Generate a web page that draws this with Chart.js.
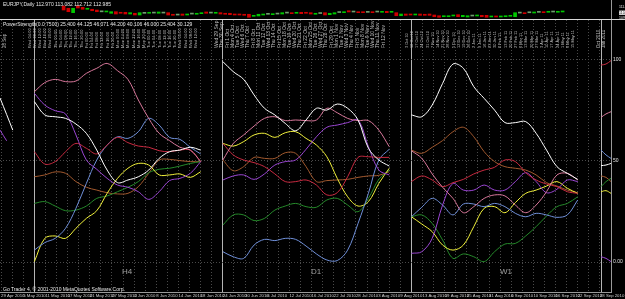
<!DOCTYPE html>
<html>
<head>
<meta charset="utf-8">
<script src="https://cdn.jsdelivr.net/npm/chart.js@4.4.1/dist/chart.umd.min.js"></script>
<style>
  html, body { margin: 0; padding: 0; background: #000; }
  #wrap { position: relative; width: 625px; height: 299px; overflow: hidden; background: #000;
          font-family: "Liberation Sans", "DejaVu Sans", sans-serif; }
  canvas { position: absolute; left: 0; }
  #priceCanvas { top: 0; }
  #mainCanvas { top: 20px; }
  #labelCanvas { top: 20px; }
  #sep { position: absolute; left: 0; top: 19px; width: 625px; height: 1px; background: #d8d8d8; }
  .txt { position: absolute; color: #e8e8e8; font-size: 5px; line-height: 5px; white-space: nowrap; }
  .sect { position: absolute; color: #a0a0a0; font-size: 8px; line-height: 8px; }
</style>
</head>
<body>
<div id="wrap">
  <canvas id="priceCanvas" width="625" height="19"></canvas>
  <div id="sep"></div>
  <canvas id="mainCanvas" width="625" height="279"></canvas>
  <canvas id="labelCanvas" width="625" height="100"></canvas>
  <div class="txt" style="left:3px;top:2px">EURJPY,Daily 112.970 113.082 112.712 112.985</div>
  <div class="txt" style="left:3px;top:22px">PowerStrength(0.0 7500) 25.400 44.125 46.071 44.200 40.106 46.000 25.404 30.129</div>
  <div class="sect" style="left:122px;top:268px">H4</div>
  <div class="sect" style="left:311px;top:268px">D1</div>
  <div class="sect" style="left:500px;top:268px">W1</div>
  <div class="txt" style="left:3px;top:287px">Go Trader 4, © 2001-2010 MetaQuotes Software Corp.</div>
</div>
<script>
// time axis in bars
const xMin = -0.2, xMax = 110;
const sectionStarts = [6, 40, 74];
const sectionSpan = 30;
const tailBars = [-0.2, 1, 2.1];
const edgeBars = [108.2, 109.1, 110];
const dividerBars = [6, 40, 74, 108.2];

// bottom date labels, one every 4 bars
const dateLabels = ['29 Apr 2010', '5 May 2010', '11 May 2010', '17 May 2010', '21 May 2010', '27 May 2010',
  '2 Jun 2010', '8 Jun 2010', '14 Jun 2010', '18 Jun 2010', '24 Jun 2010', '30 Jun 2010',
  '6 Jul 2010', '12 Jul 2010', '16 Jul 2010', '22 Jul 2010', '28 Jul 2010', '3 Aug 2010',
  '9 Aug 2010', '13 Aug 2010', '19 Aug 2010', '25 Aug 2010', '31 Aug 2010', '6 Sep 2010',
  '10 Sep 2010', '16 Sep 2010', '22 Sep 2010', '28 Sep 2010'];

// vertical labels at the top of each block
const h4Labels = ['Wed 04:00', 'Wed 08:00', 'Wed 12:00', 'Wed 16:00', 'Wed 20:00',
  'Thu 00:00', 'Thu 04:00', 'Thu 08:00', 'Thu 12:00', 'Thu 16:00', 'Thu 20:00',
  'Fri 00:00', 'Fri 04:00', 'Fri 08:00', 'Fri 12:00', 'Fri 16:00', 'Fri 20:00',
  'Mon 00:00', 'Mon 04:00', 'Mon 08:00', 'Mon 12:00', 'Mon 16:00', 'Mon 20:00',
  'Tue 00:00', 'Tue 04:00', 'Tue 08:00', 'Tue 12:00', 'Tue 16:00', 'Tue 20:00',
  'Wed 00:00', 'Wed 04:00', 'Wed 08:00', 'Wed 12:00'];
const d1Labels = ['Wed 29 Sep', 'Thu 30 Sep', 'Fri 1 Oct', 'Mon 4 Oct', 'Tue 5 Oct', 'Wed 6 Oct',
  'Thu 7 Oct', 'Fri 8 Oct', 'Mon 11 Oct', 'Tue 12 Oct', 'Wed 13 Oct', 'Thu 14 Oct', 'Fri 15 Oct',
  'Mon 18 Oct', 'Tue 19 Oct', 'Wed 20 Oct', 'Thu 21 Oct', 'Fri 22 Oct', 'Mon 25 Oct', 'Tue 26 Oct',
  'Wed 27 Oct', 'Thu 28 Oct', 'Fri 29 Oct', 'Mon 1 Nov', 'Tue 2 Nov', 'Wed 3 Nov', 'Thu 4 Nov',
  'Fri 5 Nov', 'Mon 8 Nov', 'Tue 9 Nov', 'Wed 10 Nov', 'Thu 11 Nov', 'Fri 12 Nov'];
const w1Labels = ['3 Oct 10', '10 Oct 10', '17 Oct 10', '24 Oct 10', '31 Oct 10', '7 Nov 10', '14 Nov 10',
  '21 Nov 10', '28 Nov 10', '5 Dec 10', '12 Dec 10', '19 Dec 10', '26 Dec 10', '2 Jan 11', '9 Jan 11',
  '16 Jan 11', '23 Jan 11', '30 Jan 11', '6 Feb 11', '13 Feb 11', '20 Feb 11', '27 Feb 11', '6 Mar 11',
  '13 Mar 11', '20 Mar 11', '27 Mar 11', '3 Apr 11', '10 Apr 11', '17 Apr 11', '24 Apr 11', '1 May 11',
  '8 May 11', '15 May 11'];
const tailLabels = ['27 Sep', '28 Sep'];
const edgeLabels = ['Oct 2010', 'Jan 2011'];

// strength lines, order: white, pink, red, purple, blue, yellow, green, brown
const seriesNames = ['white', 'pink', 'red', 'purple', 'blue', 'yellow', 'green', 'brown'];
const seriesColors = ['#ffffff', '#d9789b', '#c82a40', '#9a46d2', '#6f8fd8', '#f2f23c', '#25892a', '#a2592e'];

const h4Values = [
  [79.4, 72.8, 71.9, 71.1, 68.3, 63.7, 55.4, 45.5, 39.3, 40.6, 42.2, 45.5, 51.3, 54.6, 55.4, 56.8, 55.4],
  [84.3, 88.8, 90.4, 89.3, 89.6, 93.4, 95.9, 98.3, 94.7, 90.4, 80.2, 71.1, 63.7, 60.1, 56.8, 55.4, 49.7],
  [54.6, 48.5, 49.7, 54.6, 58.7, 56.3, 53.5, 57.9, 61.7, 59.1, 57.4, 56.8, 55.1, 54.6, 55.4, 55.4, 49.7],
  [83.5, 77.7, 74.9, 73.3, 62.9, 50.5, 45.9, 41.4, 38.1, 37.0, 34.8, 31.0, 34.8, 40.3, 41.4, 43.9, 49.7],
  [5.9, 9.6, 11.7, 16.7, 26.6, 38.9, 50.5, 57.9, 62.0, 61.2, 64.5, 71.1, 67.8, 61.7, 60.7, 56.8, 53.5],
  [0.2, 11.7, 12.9, 11.7, 16.7, 21.6, 25.4, 34.0, 41.4, 46.4, 48.8, 48.0, 43.1, 43.1, 43.6, 41.9, 44.7],
  [29.0, 29.9, 27.7, 25.4, 25.7, 27.7, 31.5, 32.7, 34.8, 37.0, 39.8, 44.2, 45.9, 46.4, 47.5, 48.8, 49.7],
  [42.2, 43.1, 44.6, 43.9, 39.8, 37.0, 35.6, 34.3, 33.7, 34.0, 37.3, 43.9, 50.5, 50.8, 50.2, 49.7, 49.7]
];
const d1Values = [
  [99.2, 94.2, 90.4, 82.7, 76.1, 72.8, 68.6, 65.0, 70.3, 76.1, 75.2, 78.2, 76.1, 70.3, 56.3, 50.5, 47.5],
  [50.5, 58.7, 62.9, 67.3, 71.1, 71.9, 70.0, 70.3, 70.0, 70.3, 76.1, 73.9, 71.1, 70.0, 70.0, 65.3, 57.1],
  [58.7, 53.0, 50.5, 49.2, 47.2, 43.6, 39.8, 39.8, 40.6, 38.1, 33.2, 34.3, 42.2, 51.8, 52.1, 51.8, 51.8],
  [40.6, 42.6, 43.1, 40.9, 43.6, 48.0, 49.7, 50.5, 55.8, 62.0, 66.7, 67.8, 69.0, 70.3, 57.1, 45.5, 43.1],
  [5.1, 2.6, 1.8, 8.4, 11.2, 10.6, 11.7, 11.2, 7.9, 4.0, 1.0, 0.7, 5.9, 19.1, 34.0, 50.5, 55.8],
  [58.7, 57.4, 59.6, 62.9, 63.7, 61.7, 64.0, 64.5, 61.2, 57.9, 52.1, 41.4, 32.3, 27.7, 29.9, 38.9, 46.4],
  [18.3, 23.3, 23.3, 20.5, 21.6, 25.7, 27.7, 29.0, 27.4, 27.1, 30.7, 31.5, 28.2, 24.9, 31.5, 40.9, 45.5],
  [50.5, 45.2, 47.2, 51.8, 51.3, 51.3, 54.1, 53.8, 47.2, 39.8, 40.3, 40.6, 40.9, 41.9, 42.6, 42.9, 44.7]
];
const w1Values = [
  [72.8, 71.9, 77.7, 88.4, 98.0, 95.9, 86.8, 81.0, 75.2, 69.0, 69.0, 69.5, 63.7, 55.4, 47.2, 43.9, 40.9],
  [55.1, 51.3, 43.6, 37.0, 31.5, 24.4, 27.4, 31.5, 33.2, 32.7, 28.2, 24.4, 28.2, 34.8, 43.1, 43.9, 40.6],
  [39.8, 42.6, 40.6, 37.3, 39.3, 40.9, 43.6, 45.5, 46.9, 50.5, 49.7, 44.2, 40.6, 38.6, 37.3, 34.8, 34.0],
  [4.3, 5.1, 11.7, 28.2, 38.9, 35.6, 35.6, 38.1, 35.6, 35.6, 39.8, 44.2, 39.8, 34.3, 36.0, 40.6, 39.8],
  [22.4, 27.1, 31.5, 28.2, 23.3, 28.7, 28.7, 27.4, 29.0, 27.4, 24.1, 22.4, 24.1, 23.3, 22.1, 23.3, 30.7],
  [22.4, 18.8, 15.0, 8.4, 5.9, 8.4, 17.5, 26.6, 27.4, 24.4, 29.4, 34.0, 35.6, 37.6, 39.8, 36.5, 34.0],
  [22.4, 23.3, 19.1, 10.9, 1.8, 4.0, 2.6, 0.2, 5.1, 8.9, 9.2, 12.9, 17.5, 22.8, 27.4, 29.0, 32.3],
  [55.4, 53.8, 56.8, 60.1, 64.5, 66.7, 62.0, 54.6, 49.7, 47.2, 46.4, 45.5, 43.1, 39.3, 37.6, 35.6, 34.3]
];
// end of the previous block at the far left, and the live bars at the far right
const tailValues = [[81.2, 73.0, 65.3], null, null, [65.3, 60.0, null], null, null, null, null];
const edgeValues = [
  [47.7, 48.0, 48.8], [71.6, 73.3, 74.4], [97.5, 98.0, 99.7], [2.6, 1.8, 0.2],
  [55.4, 53.0, 51.3], [34.8, 35.3, 34.0], [37.3, 39.8, 41.4], [42.6, 41.9, 39.8]
];
const levelTicks = [0, 50, 100];

// price panel candles (bodies), first candle at bar 4
const candleStart = 4;
const candleOpen = [111.57, 111.22, 110.55, 111.57, 111.37, 111.07, 111.07, 110.96, 110.70, 110.66,
  110.46, 110.70, 110.61, 110.61, 110.35, 110.46, 110.20, 110.46, 110.46, 110.50,
  110.46, 110.50, 110.55, 110.31, 110.20, 110.35, 110.20, 110.35, 110.31, 110.40,
  110.66, 110.50, 110.46, 110.55, 110.46, 110.46, 110.35, 110.35, 110.31, 110.31,
  110.00, 110.05, 110.20, 110.31, 110.25, 110.35, 110.35, 110.50, 110.55, 110.46,
  110.61, 110.61, 110.55, 110.31, 110.43, 110.55, 110.25, 110.35, 110.58, 110.55,
  110.85, 110.66, 110.70, 110.66, 110.61, 110.70, 110.66, 110.61, 110.76, 110.61,
  110.55, 110.09, 110.35, 110.35, 110.20, 110.35, 110.31, 110.35, 110.20, 110.09,
  109.94, 109.94, 110.05, 110.25, 109.94, 109.90, 110.05, 110.05, 110.15, 110.15,
  109.90, 110.05, 109.90, 109.94, 110.00, 109.94, 110.50, 110.50, 110.55, 110.50,
  110.61, 110.70, 110.61, 110.66, 110.61, 110.66];
const candleClose = [110.96, 110.70, 111.22, 111.26, 111.07, 111.22, 110.85, 110.70, 110.68, 110.81,
  110.70, 110.35, 110.46, 110.35, 110.55, 110.20, 110.55, 110.45, 110.55, 110.49,
  110.66, 110.49, 110.20, 110.15, 110.19, 110.15, 110.35, 110.34, 110.46, 110.55,
  110.46, 110.49, 110.55, 110.35, 110.31, 110.25, 110.20, 110.20, 110.15, 109.85,
  110.15, 110.31, 110.35, 110.30, 110.35, 110.34, 110.55, 110.49, 110.40, 110.61,
  110.40, 110.46, 110.35, 110.46, 110.42, 110.20, 110.46, 110.55, 110.57, 110.70,
  110.66, 110.65, 110.55, 110.55, 110.60, 110.55, 110.65, 110.76, 110.55, 110.76,
  110.09, 110.35, 110.15, 110.20, 110.35, 110.15, 110.15, 110.15, 109.94, 109.85,
  110.05, 110.09, 110.20, 109.94, 110.15, 110.09, 110.04, 110.20, 109.94, 109.85,
  110.05, 109.90, 110.05, 110.09, 110.15, 110.55, 110.49, 110.40, 110.54, 110.66,
  110.60, 110.55, 110.76, 110.65, 110.76, 110.81];
const priceTicks = [111.415, 110.549, 109.790];
const priceMin = 109.592, priceMax = 112.478;

const fontFamily = '"Liberation Sans", "DejaVu Sans", sans-serif';
Chart.defaults.font.family = fontFamily;
Chart.defaults.animation = false;

function sectionPoints(values, start, span) {
  const step = span / (values.length - 1);
  return values.map((v, k) => ({ x: start + k * step, y: v }));
}

const datasets = seriesNames.map((name, i) => {
  let pts = [];
  if (tailValues[i]) {
    pts = pts.concat(tailValues[i].map((v, k) => ({ x: tailBars[k], y: v })));
    pts.push({ x: tailBars[tailBars.length - 1] + 0.5, y: null });
  }
  [h4Values, d1Values, w1Values].forEach((block, s) => {
    pts = pts.concat(sectionPoints(block[i], sectionStarts[s], sectionSpan));
    pts.push({ x: sectionStarts[s] + sectionSpan + 0.5, y: null });
  });
  pts = pts.concat(edgeValues[i].map((v, k) => ({ x: edgeBars[k], y: v })));
  return {
    label: name,
    data: pts,
    borderColor: seriesColors[i],
    borderWidth: 1,
    pointRadius: 0,
    tension: 0.35,
    spanGaps: false
  };
});

const gridBars = [];
for (let b = 0; b <= 110; b += 2) gridBars.push(b);

new Chart(document.getElementById('mainCanvas'), {
  type: 'line',
  data: { datasets },
  options: {
    responsive: false,
    devicePixelRatio: 1,
    plugins: { legend: { display: false }, tooltip: { enabled: false } },
    scales: {
      x: {
        type: 'linear', position: 'bottom', min: xMin, max: xMax,
        afterBuildTicks: s => { s.ticks = gridBars.map(v => ({ value: v })); },
        afterFit: s => { s.height = 7; s.paddingLeft = 0; s.paddingRight = 0; },
        grid: { color: '#4a4a4a', drawTicks: false },
        border: { color: '#9a9a9a', dash: [1, 2] },
        ticks: {
          autoSkip: false, maxRotation: 0, minRotation: 0, align: 'start', padding: 1,
          color: '#d0d0d0', font: { size: 4.3 },
          callback: v => (v % 4 === 0 && dateLabels[v / 4]) ? dateLabels[v / 4] : ''
        }
      },
      xd: {
        type: 'linear', position: 'bottom', min: xMin, max: xMax,
        afterBuildTicks: s => { s.ticks = dividerBars.map(v => ({ value: v })); },
        grid: { color: '#b4b4b4', drawTicks: false },
        border: { display: false },
        ticks: { display: false }
      },
      y: {
        position: 'right', min: -14.85, max: 119.8,
        afterBuildTicks: s => { s.ticks = levelTicks.map(v => ({ value: v })); },
        afterFit: s => { s.width = 14; s.paddingTop = 0; s.paddingBottom = 0; },
        grid: { color: '#4a4a4a', drawTicks: false },
        border: { color: '#9a9a9a', dash: [1, 2] },
        ticks: {
          autoSkip: false, padding: 2, color: '#e0e0e0', font: { size: 5 },
          callback: v => v === 0 ? '0.00' : String(v)
        }
      }
    }
  }
});

// vertical text labels drawn as a top axis over the main panel
const labelFontSizes = { tail: 4.5, h4: 4.1, d1: 5, w1: 3.9, edge: 4.5 };
const topTicks = [];
tailLabels.forEach((t, j) => topTicks.push({ value: 0.6 + j, label: t, sec: 'tail' }));
[['h4', h4Labels], ['d1', d1Labels], ['w1', w1Labels]].forEach(([sec, arr], s) => {
  const step = sectionSpan / (arr.length - 1);
  arr.forEach((t, j) => topTicks.push({ value: sectionStarts[s] + j * step, label: t, sec }));
});
edgeLabels.forEach((t, j) => topTicks.push({ value: 108.7 + j, label: t, sec: 'edge' }));

new Chart(document.getElementById('labelCanvas'), {
  type: 'line',
  data: { datasets: [] },
  options: {
    responsive: false,
    devicePixelRatio: 1,
    layout: { padding: { top: 0, right: 14, left: 0, bottom: 0 } },
    plugins: { legend: { display: false }, tooltip: { enabled: false } },
    scales: {
      x: {
        type: 'linear', position: 'top', min: xMin, max: xMax,
        afterBuildTicks: s => { s.ticks = topTicks.map(t => ({ value: t.value })); },
        afterFit: s => { s.height = 37; s.paddingLeft = 0; s.paddingRight = 0; },
        grid: { display: false },
        border: { display: false },
        ticks: {
          autoSkip: false, minRotation: 90, maxRotation: 90, padding: 1,
          color: '#bdbdbd',
          font: c => ({ size: topTicks[c.index] ? labelFontSizes[topTicks[c.index].sec] : 5 }),
          callback: (v, i) => topTicks[i] ? topTicks[i].label : ''
        }
      },
      y: { display: false, min: 0, max: 1 }
    }
  }
});

// price panel
new Chart(document.getElementById('priceCanvas'), {
  type: 'bar',
  data: {
    datasets: [{
      data: candleOpen.map((o, i) => ({ x: candleStart + i, y: [o, candleClose[i]] })),
      backgroundColor: c => {
        const r = c.raw;
        if (!r) return '#888';
        const d = r.y[1] - r.y[0];
        if (Math.abs(d) < 0.02) return '#6f9f6f';
        return d > 0 ? '#00c800' : '#d00000';
      },
      barThickness: 3,
      minBarLength: 1
    }]
  },
  options: {
    responsive: false,
    devicePixelRatio: 1,
    plugins: { legend: { display: false }, tooltip: { enabled: false } },
    scales: {
      x: { type: 'linear', min: xMin, max: xMax, display: false },
      y: {
        position: 'right', min: priceMin, max: priceMax,
        afterBuildTicks: s => { s.ticks = priceTicks.map(v => ({ value: v })); },
        afterFit: s => { s.width = 14; s.paddingTop = 0; s.paddingBottom = 0; },
        grid: { display: false },
        border: { color: '#9a9a9a' },
        ticks: {
          autoSkip: false, padding: 0, font: { size: 3.5 },
          color: c => c.index === 1 ? '#000000' : '#e0e0e0',
          showLabelBackdrop: c => c.index === 1,
          backdropColor: '#ffffff',
          backdropPadding: 0,
          callback: v => v.toFixed(3)
        }
      }
    }
  }
});
</script>
</body>
</html>
